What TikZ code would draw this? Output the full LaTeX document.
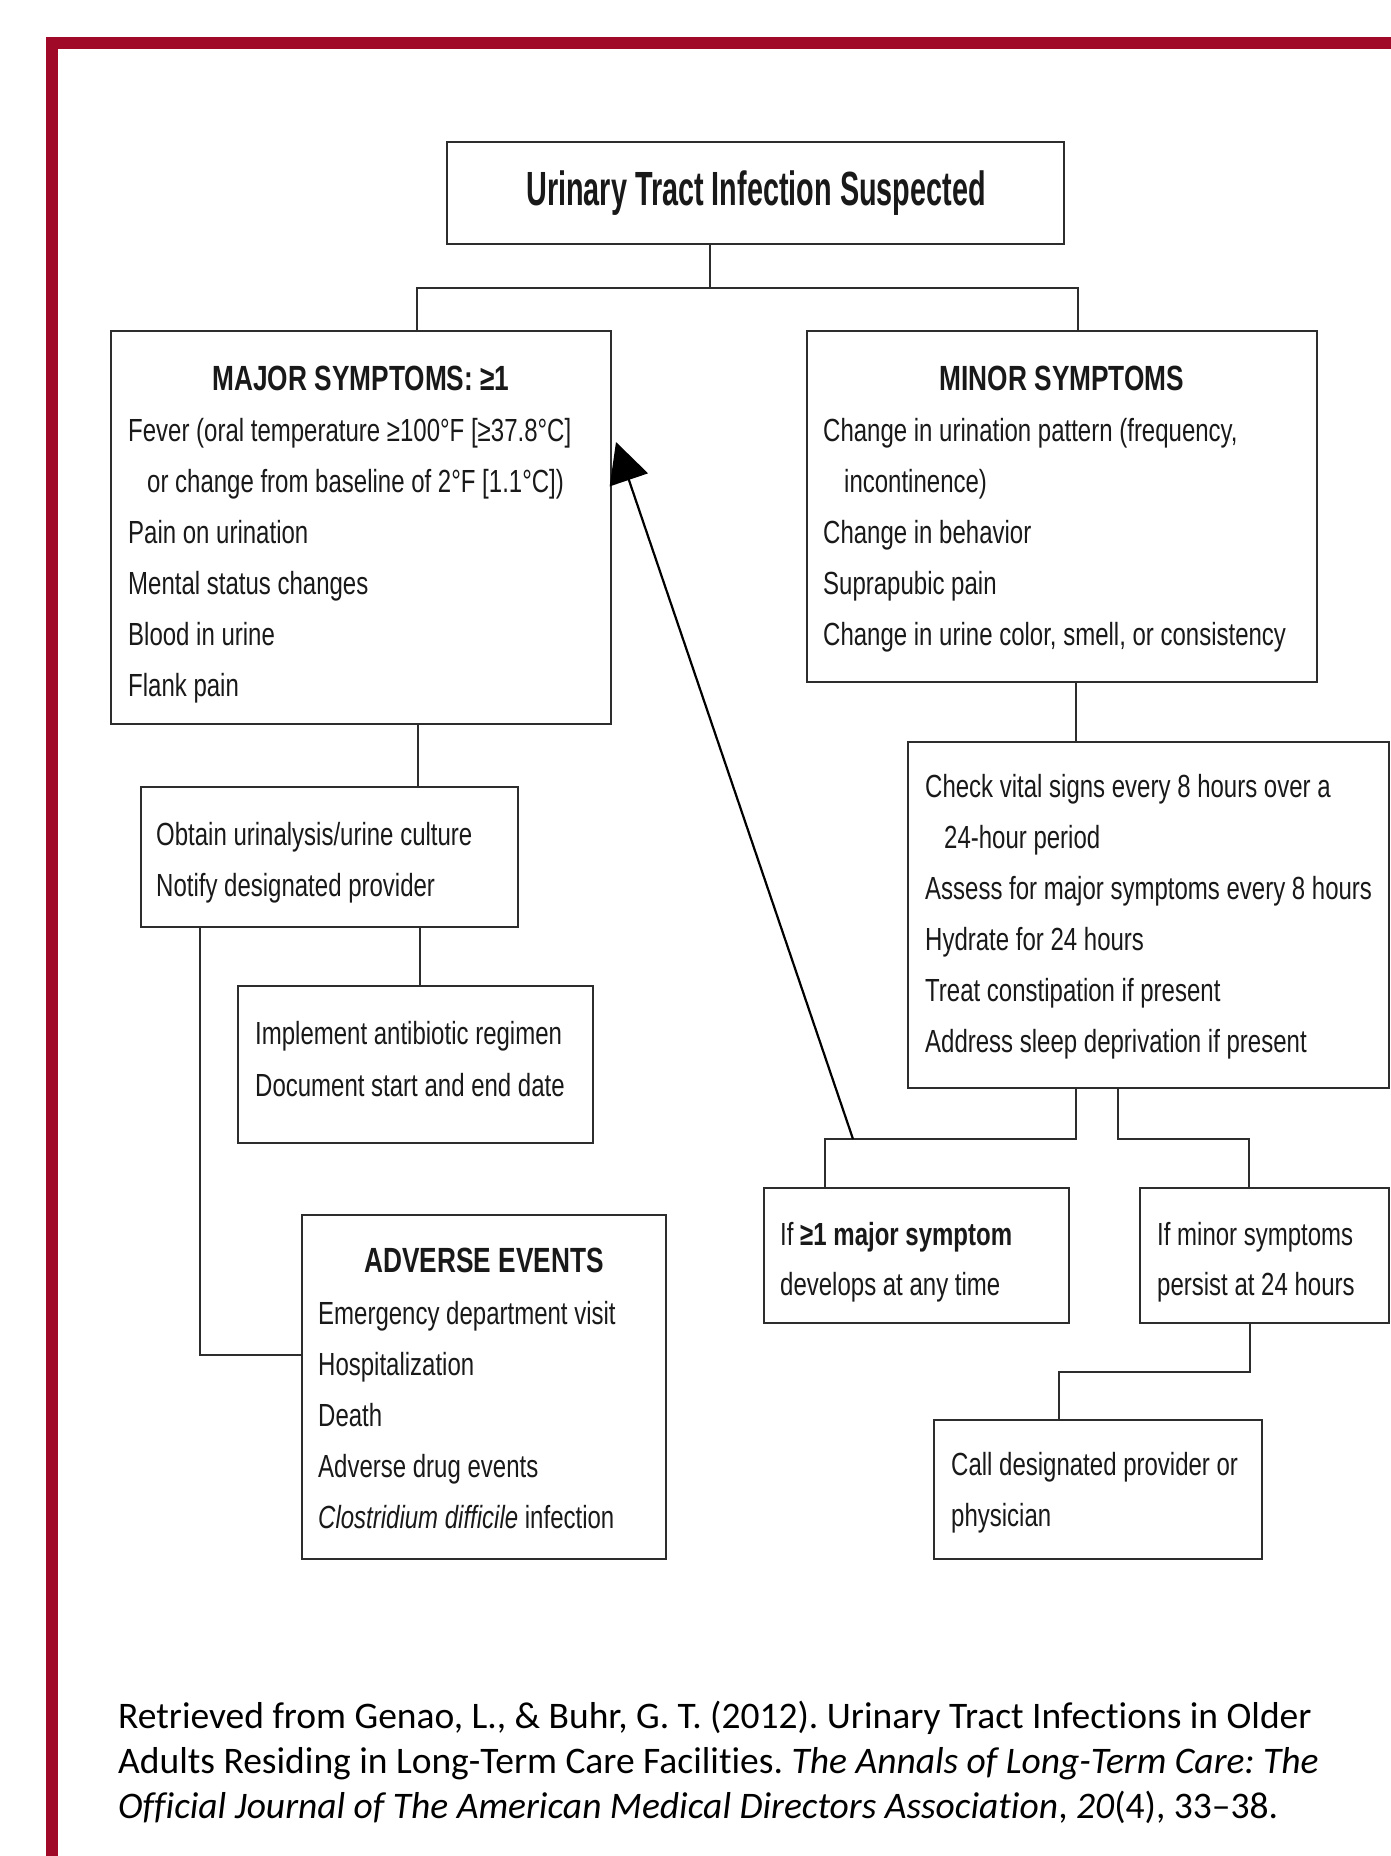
\documentclass[tikz,border=0pt]{standalone}
\usepackage{fontspec}
\setmainfont{Liberation Sans}[FakeStretch=0.75]
\newfontfamily\titlefont{Liberation Sans}[FakeStretch=0.6]
\newfontfamily\citefont{Carlito}[Ligatures=NoCommon]
\usetikzlibrary{arrows.meta}
\definecolor{frame}{RGB}{160,10,40}
\definecolor{ink}{RGB}{45,45,45}
\frenchspacing
\begin{document}
\begin{tikzpicture}[x=1pt,y=-1pt,
  box/.style={draw=ink, line width=2.5pt, rectangle, inner sep=0pt, fill=white},
  conn/.style={draw=ink, line width=1.8pt},
  txt/.style={anchor=base west, inner sep=0pt, text=black!90, font=\fontsize{32}{38}\selectfont},
  hdr/.style={anchor=base, inner sep=0pt, text=black!90, font=\fontsize{35}{40}\selectfont\bfseries},
  cite/.style={anchor=base west, inner sep=0pt, font=\citefont\fontsize{37.5}{44}\selectfont}
]
\fill[white] (0,0) rectangle (1391,1856);
\useasboundingbox (0,0) rectangle (1391,1856);
\fill[frame] (46,37) rectangle (1391,49);
\fill[frame] (46,37) rectangle (58,1856);

% boxes
\node[box, minimum width=617pt, minimum height=102pt] (title) at (755.5,193) {};
\node[box, minimum width=500pt, minimum height=393pt] (maj) at (361,527.5) {};
\node[box, minimum width=510pt, minimum height=351pt] (min) at (1062,506.5) {};
\node[box, minimum width=377pt, minimum height=140pt] (obt) at (329.5,857) {};
\node[box, minimum width=355pt, minimum height=157pt] (imp) at (415.5,1064.5) {};
\node[box, minimum width=364pt, minimum height=344pt] (adv) at (484,1387) {};
\node[box, minimum width=481pt, minimum height=346pt] (chk) at (1148.5,915) {};
\node[box, minimum width=305pt, minimum height=135pt] (if1) at (916.5,1255.5) {};
\node[box, minimum width=249pt, minimum height=135pt] (ifm) at (1264.5,1255.5) {};
\node[box, minimum width=328pt, minimum height=139pt] (call) at (1098,1489.5) {};

% connectors
\coordinate (jT) at (710,288);
\coordinate (jL) at (417,288);
\coordinate (jR) at (1078,288);
\draw[conn] (title.south -| jT) -- (jT);
\draw[conn] (maj.north -| jL) -- (jL) -- (jR) -- (min.north -| jR);
\coordinate (xa) at (418,0);
\draw[conn] (maj.south -| xa) -- (obt.north -| xa);
\coordinate (xb) at (420,0);
\draw[conn] (obt.south -| xb) -- (imp.north -| xb);
\coordinate (jA) at (200,1355);
\draw[conn] (obt.south -| jA) -- (jA) -- (adv.west |- jA);
\coordinate (xc) at (1076,0);
\draw[conn] (min.south -| xc) -- (chk.north -| xc);
\coordinate (jB1) at (1076,1139);
\coordinate (jB2) at (825,1139);
\draw[conn] (chk.south -| jB1) -- (jB1) -- (jB2) -- (if1.north -| jB2);
\coordinate (jC1) at (1118,1139);
\coordinate (jC2) at (1249,1139);
\draw[conn] (chk.south -| jC1) -- (jC1) -- (jC2) -- (ifm.north -| jC2);
\coordinate (jD1) at (1250,1372);
\coordinate (jD2) at (1059,1372);
\draw[conn] (ifm.south -| jD1) -- (jD1) -- (jD2) -- (call.north -| jD2);
\coordinate (aS) at (853,1139);
\coordinate (aT) at (616,442);
\draw[conn, line width=2.2pt, draw=black, -{Triangle[length=40pt,width=40pt]}] (aS) -- (aT);

% texts
\node[anchor=base, inner sep=0pt, text=black!90, font=\titlefont\fontsize{48}{56}\selectfont\bfseries] (titletext) at (756,205) {Urinary Tract Infection Suspected};

\node[hdr] (majh) at (361,390) {MAJOR SYMPTOMS: ≥1};
\foreach \mytext [count=\i from 0] in {{Fever (oral temperature ≥100°F [≥37.8°C]},{\hspace*{19pt}or change from baseline of 2°F [1.1°C])},{Pain on urination},{Mental status changes},{Blood in urine},{Flank pain}}
  \node[txt] (maj\i) at (128,441+51*\i) {\mytext};

\node[hdr] (minh) at (1062,390) {MINOR SYMPTOMS};
\foreach \mytext [count=\i from 0] in {{Change in urination pattern (frequency,},{\hspace*{21pt}incontinence)},{Change in behavior},{Suprapubic pain},{Change in urine color, smell, or consistency}}
  \node[txt] (min\i) at (823,441+51*\i) {\mytext};

\foreach \mytext [count=\i from 0] in {{Obtain urinalysis/urine culture},{Notify designated provider}}
  \node[txt] (obt\i) at (156,845+51*\i) {\mytext};

\foreach \mytext [count=\i from 0] in {{Implement antibiotic regimen},{Document start and end date}}
  \node[txt] (imp\i) at (255,1044+52*\i) {\mytext};

\foreach \mytext [count=\i from 0] in {{Check vital signs every 8 hours over a},{\hspace*{19pt}24-hour period},{Assess for major symptoms every 8 hours},{Hydrate for 24 hours},{Treat constipation if present},{Address sleep deprivation if present}}
  \node[txt] (chk\i) at (925,797+51*\i) {\mytext};

\node[hdr] (advh) at (484,1272) {ADVERSE EVENTS};
\foreach \mytext [count=\i from 0] in {{Emergency department visit},{Hospitalization},{Death},{Adverse drug events},{\textit{Clostridium difficile} infection}}
  \node[txt] (adv\i) at (318,1324+51*\i) {\mytext};

\node[txt] (if1a) at (780,1245) {If \textbf{≥1 major symptom}};
\node[txt] (if1b) at (780,1295) {develops at any time};
\node[txt] (ifma) at (1157,1245) {If minor symptoms};
\node[txt] (ifmb) at (1157,1295) {persist at 24 hours};
\node[txt] (calla) at (951,1475) {Call designated provider or};
\node[txt] (callb) at (951,1526) {physician};

% citation
\node[cite] (cit1) at (118,1728) {Retrieved from Genao, L., \& Buhr, G. T. (2012). Urinary Tract Infections in Older};
\node[cite] (cit2) at (118,1773) {Adults Residing in Long-Term Care Facilities. \textit{The Annals of Long-Term Care: The}};
\node[cite] (cit3) at (118,1818) {\textit{Official Journal of The American Medical Directors Association}, \textit{20}(4), 33–38.};
\end{tikzpicture}
\end{document}
